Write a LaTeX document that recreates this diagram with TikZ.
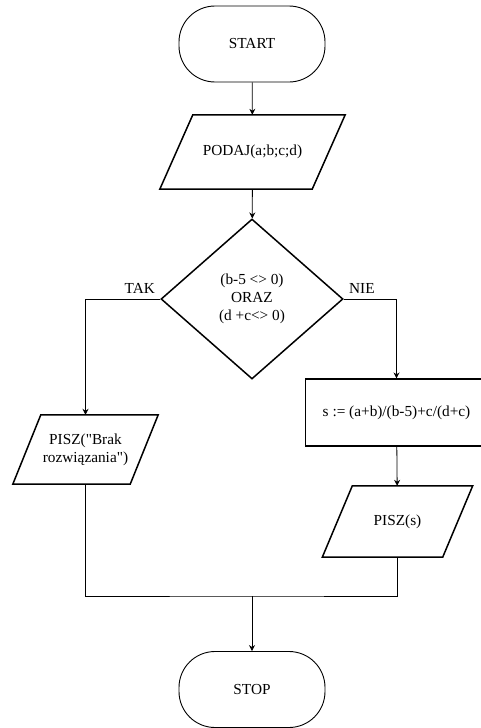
\documentclass[tikz,border=0pt]{standalone}
\usepackage{fontspec}
\setmainfont{Liberation Serif}[Ligatures=TeXOff]
\usepackage{tikz}
\usetikzlibrary{arrows.meta,shapes.geometric}

% parallelogram outline round a node: name, slant
\newcommand{\ioframe}[2]{%
  \draw[line width=1.5pt, line join=miter] ([xshift=#2]#1.north west) -- (#1.north east)
    -- ([xshift=-#2]#1.south east) -- (#1.south west) -- cycle;}

\begin{document}
\begin{tikzpicture}[x=1pt, y=-1pt, >={Stealth[length=6pt,width=6pt]},
    font=\fontsize{15.3}{18}\selectfont,
    line/.style={line width=0.8pt},
    terminal/.style={draw, line width=0.9pt, rectangle, rounded corners=36pt,
        minimum width=146pt, minimum height=76pt, inner sep=0pt},
    io/.style={rectangle, align=center, inner sep=0pt},
    decision/.style={draw, line width=1.5pt, diamond, minimum width=182pt,
        minimum height=160pt, inner sep=0pt, align=center},
    process/.style={draw, line width=1.1pt, rectangle, minimum width=182pt,
        minimum height=67pt, inner sep=0pt}]
    % Frame
    \useasboundingbox (0,0) rectangle (481,728);

    % Blocks
    \node[terminal] (start) at (252,44) {START};
    \node[io, minimum width=185pt, minimum height=74pt] (podaj) at (252.5,152) {PODAJ(a;b;c;d)};
    \ioframe{podaj}{33pt}
    \node[decision] (cond) at (252,299) {(b-5 <> 0)\\ORAZ\\(d +c<> 0)};
    \node[io, minimum width=145pt, minimum height=69pt] (brak) at (85.5,449.5) {PISZ("Brak\\rozwiązania")};
    \ioframe{brak}{28pt}
    \node[process] (calc) at (396.5,412.5) {s := (a+b)/(b-5)+c/(d+c)};
    \node[io, minimum width=150pt, minimum height=71pt] (pisz) at (397.5,521.5) {PISZ(s)};
    \ioframe{pisz}{30pt}
    \node[terminal] (stop) at (252,689.5) {STOP};
    \coordinate (join) at (252,596);

    % Connectors
    \draw[line, ->] (start) -- (podaj);
    \draw[line, ->] (podaj) -- (cond);
    \draw[line, ->] (cond.west) node[above left, inner sep=5pt] {TAK} -| (brak.north);
    \draw[line, ->] (cond.east) node[above right, inner sep=5pt] {NIE} -| (calc.north);
    \draw[line, ->] (calc) -- (pisz);
    \draw[line] (brak.south) |- (join) -| (pisz.south);
    \draw[line, ->] (join) -- (stop);
\end{tikzpicture}
\end{document}
